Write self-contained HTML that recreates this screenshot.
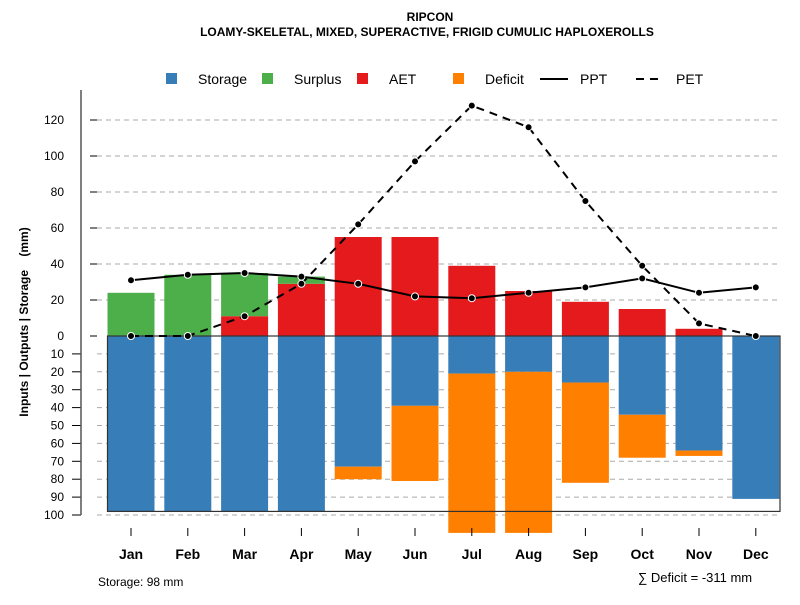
<!DOCTYPE html>
<html><head><meta charset="utf-8"><style>
body{margin:0;background:#fff;}
svg text{font-family:"Liberation Sans",Arial,sans-serif;}
</style></head><body>
<svg id="chart" width="800" height="600" xmlns="http://www.w3.org/2000/svg">
<text x="430" y="21" text-anchor="middle" font-size="12" font-weight="bold">RIPCON</text>
<text x="427" y="36" text-anchor="middle" font-size="12" font-weight="bold">LOAMY-SKELETAL, MIXED, SUPERACTIVE, FRIGID CUMULIC HAPLOXEROLLS</text>
<g id="legend" font-size="14">
<rect x="166" y="73" width="11" height="11" fill="#377eb8"/><text x="198" y="84">Storage</text>
<rect x="262" y="73" width="11" height="11" fill="#4daf4a"/><text x="294" y="84">Surplus</text>
<rect x="357" y="73" width="11" height="11" fill="#e41a1c"/><text x="389" y="84">AET</text>
<rect x="453" y="73" width="11" height="11" fill="#ff7f00"/><text x="485" y="84">Deficit</text>
<line x1="540" y1="79" x2="568" y2="79" stroke="#000" stroke-width="2"/><text x="580" y="84">PPT</text>
<line x1="636" y1="79" x2="664" y2="79" stroke="#000" stroke-width="2" stroke-dasharray="8,6"/><text x="676" y="84">PET</text>
</g>
<text xml:space="preserve" style="white-space:pre" transform="translate(28,322) rotate(-90)" text-anchor="middle" font-size="12" font-weight="bold">Inputs | Outputs | Storage    (mm)</text>
<g id="grid"></g><g id="bars"></g><g id="lines"></g><g id="axes"></g>
<text x="98" y="586" font-size="12">Storage: 98 mm</text>
<text x="638" y="582" font-size="13">∑ Deficit = -311 mm</text>
</svg>
<script>
const months=["Jan","Feb","Mar","Apr","May","Jun","Jul","Aug","Sep","Oct","Nov","Dec"];
const surplus=[24,34,24,4,0,0,0,0,0,0,0,0];
const aet=[0,0,11,29,55,55,39,25,19,15,4,0];
const storage=[98,98,98,98,73,39,21,20,26,44,64,91];
const deficit=[0,0,0,0,7,42,89,90,56,24,3,0];
const ppt=[31,34,35,33,29,22,21,24,27,32,24,27];
const pet=[0,0,11,29,62,97,128,116,75,39,7,0];
const posTicks=[0,20,40,60,80,100,120];
const negTicks=[10,20,30,40,50,60,70,80,90,100];
const storageCapacity=98;
const NS="http://www.w3.org/2000/svg";
function y(v){return v>=0?336-v*1.8:336-v*1.79;}
function x(i){return 131+i*56.8;}
function mk(parent,tag,attrs){const e=document.createElementNS(NS,tag);for(const k in attrs)e.setAttribute(k,attrs[k]);document.getElementById(parent).appendChild(e);return e;}
posTicks.forEach(t=>{if(t>0){const g=mk('grid','line',{x1:97,x2:780,y1:y(t),y2:y(t),stroke:'#aaa','stroke-dasharray':'5,4'});

}
const l=mk('axes','text',{x:64,y:y(t)+4,'text-anchor':'end','font-size':12});l.textContent=t;


const tk=mk('axes','line',{x1:90,x2:97,y1:y(t),y2:y(t),stroke:'#000'});

});
negTicks.forEach(t=>{const g=mk('grid','line',{x1:97,x2:780,y1:y(-t),y2:y(-t),stroke:'#aaa','stroke-dasharray':'5,4'});


const l=mk('axes','text',{x:64,y:y(-t)+4,'text-anchor':'end','font-size':12});l.textContent=t;


const tk=mk('axes','line',{x1:72,x2:81,y1:y(-t),y2:y(-t),stroke:'#000'});

});
const ax=mk('axes','line',{x1:81,x2:81,y1:y(120)-30,y2:y(-100),stroke:'#555','stroke-width':1.5});


const w=47;
months.forEach((m,i)=>{const cx=x(i);
function bar(v0,v1,c,n){if(v1===v0)return;const r=mk('bars','rect',{x:cx-w/2,y:Math.min(y(v0),y(v1)),width:w,height:Math.abs(y(v1)-y(v0)),fill:c});

}
bar(0,aet[i],'#e41a1c','aet-bar');
bar(aet[i],aet[i]+surplus[i],'#4daf4a','surplus-bar');
bar(0,-storage[i],'#377eb8','storage-bar');
bar(-storage[i],-storage[i]-deficit[i],'#ff7f00','deficit-bar');
const tk=mk('axes','line',{x1:cx,x2:cx,y1:528,y2:536,stroke:'#000'});


const l=mk('axes','text',{x:cx,y:559,'text-anchor':'middle','font-size':14,'font-weight':'bold'});l.textContent=m;

});
const box=mk('bars','rect',{x:x(0)-w/2,y:y(0),width:780-(x(0)-w/2),height:y(-storageCapacity)-y(0),fill:'none',stroke:'#333','stroke-width':1.2});


function series(vals,dash,n){const p=mk('lines','polyline',{points:vals.map((v,i)=>x(i)+','+y(v)).join(' '),fill:'none',stroke:'#000','stroke-width':2,'stroke-dasharray':dash});


vals.forEach((v,i)=>{const c=mk('lines','circle',{cx:x(i),cy:y(v),r:3.5,fill:'#000',stroke:'#fff','stroke-width':1});

});}
series(ppt,'none','ppt');
series(pet,'8,6','pet');
</script>
</body></html>
